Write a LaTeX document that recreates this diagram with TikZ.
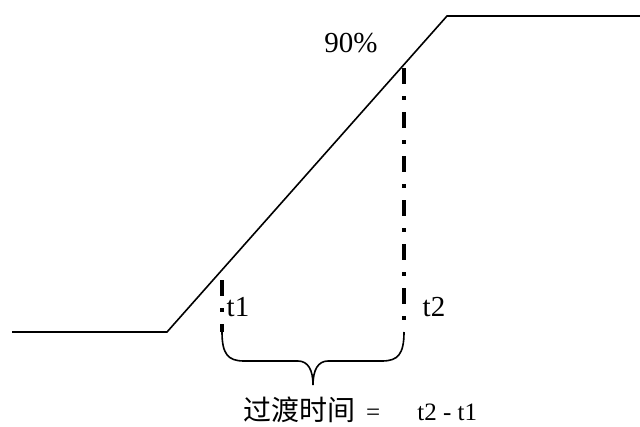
\documentclass[tikz,border=0pt]{standalone}
\usepackage{fontspec}
\setmainfont{Liberation Serif}
\newfontfamily\cjk{Noto Sans CJK SC}
\usetikzlibrary{positioning,calc}

\begin{document}
\begin{tikzpicture}[x=1pt, y=-1pt,
  signal/.style={draw, line width=1.6pt, line join=miter},
  marker/.style={draw, line width=3.5pt, dash pattern=on 16pt off 12pt on 4pt off 12pt},
  bracket/.style={draw, line width=1.6pt},
  lbl/.style={inner sep=0pt, font=\fontsize{29}{33}\selectfont},
  big/.style={inner sep=0pt, font=\fontsize{29}{33}\selectfont}
]
  \useasboundingbox (0,0) rectangle (640,426);

  \coordinate (lowL) at (12,332);
  \coordinate (lowR) at (167,332);
  \coordinate (highL) at (447,16);
  \coordinate (highR) at (640,16);

  \coordinate (t1top) at (222,280);
  \coordinate (t1bot) at (222,332);
  \coordinate (t2top) at (404,68);
  \coordinate (t2bot) at (404,321);
  \coordinate (tip) at (313,385);

  \draw[signal] (lowL) -- (lowR) -- (highL) -- (highR);

  \draw[marker] (t1top) -- (t1bot);
  \draw[marker] (t2top) -- (t2bot);

  \draw[bracket] (t1bot) .. controls (222,354) and (228,361) .. (244,361) -- (298,361)
    .. controls (308,361) and (313,370) .. (tip)
    .. controls (313,370) and (318,361) .. (328,361) -- (382,361)
    .. controls (398,361) and (404,354) .. (404,332);

  \node[big] (pct) at (351,43) {90\%};
  \node[lbl] (lblA) at (238,307) {t1};
  \node[lbl] (lblB) at (434,307) {t2};
  \node[inner sep=0pt, anchor=base west, font=\fontsize{25}{29}\selectfont] (span) at (243,420)
    {{\cjk\fontsize{28}{32}\selectfont 过渡时间}\hspace{11pt}=\hspace{37pt}t2 - t1};
\end{tikzpicture}
\end{document}
